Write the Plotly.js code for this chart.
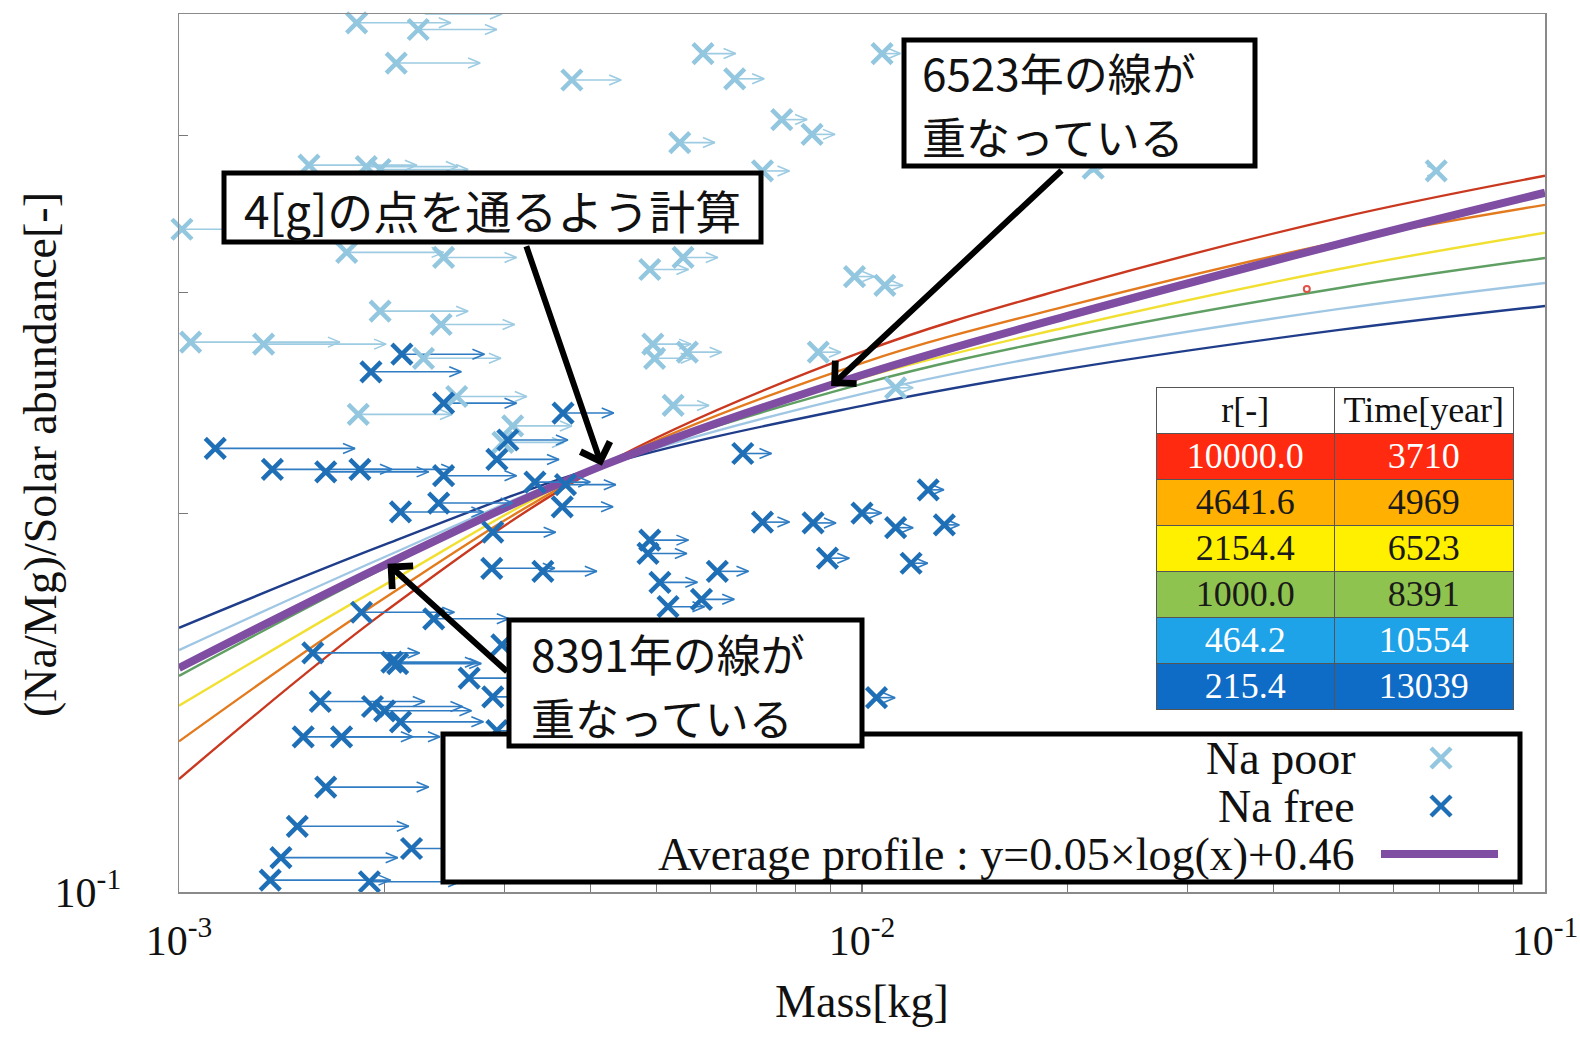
<!DOCTYPE html>
<html>
<head>
<meta charset="utf-8">
<script src="https://cdn.plot.ly/plotly-3.0.1.min.js"></script>
<style>
  html, body { margin: 0; padding: 0; background: #ffffff; }
  #chart { width: 1580px; height: 1038px; }
</style>
</head>
<body>
<div id="chart"></div>
<script>
// ---------- model profiles (Na/Mg ratio vs mass) ----------
const massGrid = [0.001, 0.002, 0.00416, 0.01, 0.02, 0.05, 0.1];
const profileR10000 = [0.1230, 0.1671, 0.2184, 0.2691, 0.3026, 0.3441, 0.3717];
const profileR4641  = [0.1318, 0.1714, 0.2184, 0.2637, 0.2928, 0.3293, 0.3524];
const profileR2154  = [0.1407, 0.1756, 0.2184, 0.2566, 0.2817, 0.3133, 0.3348];
const profileR1000  = [0.1486, 0.1811, 0.2184, 0.2538, 0.2766, 0.3026, 0.3197];
const profileR464   = [0.1558, 0.1848, 0.2184, 0.2492, 0.2691, 0.2912, 0.3054];
const profileR215   = [0.1623, 0.1890, 0.2184, 0.2438, 0.2609, 0.2802, 0.2928];
const averageProfile = [0.1508, 0.1821, 0.2184, 0.2580, 0.2875, 0.3281, 0.3603];

// table of growth factor r and elapsed time
const rValues = [10000.0, 4641.6, 2154.4, 1000.0, 464.2, 215.4];
const years   = [3710, 4969, 6523, 8391, 10554, 13039];

// ---------- measured samples ----------
const naPoorMass = [0.00182, 0.00229, 0.00224, 0.00208, 0.00376, 0.00585, 0.00651, 0.0107,
  0.00541, 0.00763, 0.00845, 0.00715, 0.00489, 0.00547, 0.00975, 0.0108, 0.00494, 0.00497,
  0.00555, 0.00863, 0.00529, 0.0112, 0.0218, 0.0693, 0.00101, 0.00155, 0.00188, 0.00197,
  0.00176, 0.00244, 0.00197, 0.00242, 0.00104, 0.00133, 0.00228, 0.00183, 0.00255, 0.00308, 0.00298];
const naPoorRatio = [0.492, 0.500, 0.486, 0.457, 0.443, 0.465, 0.444, 0.465,
  0.395, 0.412, 0.401, 0.375, 0.313, 0.320, 0.309, 0.304, 0.273, 0.266,
  0.269, 0.269, 0.244, 0.252, 0.377, 0.375, 0.337, 0.379, 0.378, 0.376,
  0.323, 0.320, 0.290, 0.283, 0.274, 0.273, 0.266, 0.240, 0.248, 0.235, 0.228];

const naFreeMass = [0.00113, 0.00137, 0.00164, 0.00184, 0.00244, 0.00191, 0.00212, 0.00244,
  0.00365, 0.00303, 0.00292, 0.00332, 0.00368, 0.00211, 0.00240, 0.00364, 0.00288, 0.00287,
  0.00341, 0.00185, 0.00236, 0.00157, 0.00205, 0.00209, 0.00266, 0.00288, 0.00161, 0.00192,
  0.00200, 0.00211, 0.00152, 0.00173, 0.00164, 0.00149, 0.00219, 0.00141, 0.00136, 0.00190,
  0.00669, 0.0125, 0.00715, 0.00848, 0.0100, 0.0112, 0.0132, 0.00890, 0.0118, 0.00489,
  0.00486, 0.00506, 0.00614, 0.00520, 0.00582, 0.0105, 0.00292, 0.00297];
const naFreeRatio = [0.2255, 0.217, 0.216, 0.217, 0.2145, 0.2595, 0.268, 0.245,
  0.2406, 0.229, 0.221, 0.212, 0.211, 0.2007, 0.204, 0.2026, 0.1934, 0.181,
  0.180, 0.167, 0.165, 0.155, 0.1524, 0.152, 0.148, 0.143, 0.1418, 0.1405,
  0.1394, 0.1366, 0.1329, 0.1329, 0.1212, 0.1128, 0.1083, 0.1065, 0.1022, 0.1019,
  0.2234, 0.209, 0.197, 0.1967, 0.2003, 0.195, 0.196, 0.1844, 0.1827, 0.1906,
  0.186, 0.1764, 0.180, 0.1687, 0.171, 0.1428, 0.1344, 0.1573];

// each sample carries a lower-limit arrow of this mass span (kg)
const ARROW_SPAN = 0.00068;

// a single marked point on the 8391-year curve
const markMass = [0.0448];
const markRatio = [0.302];

// ---------- page geometry ----------
const W = 1580, H = 1038;
const M = { l: 179, r: 35, t: 14, b: 146 };
const plotW = W - M.l - M.r;
const plotH = H - M.t - M.b;
const X_RANGE = [-3, -1];
const Y_RANGE = [-1, Math.log10(0.5)];
const pxPerDecX = plotW / (X_RANGE[1] - X_RANGE[0]);
const pxPerDecY = plotH / (Y_RANGE[1] - Y_RANGE[0]);
const HEAD_LEN = 12, HEAD_HALF = 5;

const SERIF = 'Liberation Serif, Times New Roman, serif';
const CJK = 'Noto Sans CJK JP, Noto Sans, sans-serif';

const C = {
  poor: '#93c6df', poorArrow: '#9ccbe2',
  free: '#1f6fb6', freeArrow: '#2f7cc2',
  avg: '#7f4ea3'
};
const curveColors = ['#c9381f', '#e37a1e', '#f1e032', '#5f9f63', '#9fc7e4', '#1f3d8a'];
const curveSets = [profileR10000, profileR4641, profileR2154, profileR1000, profileR464, profileR215];

// arrow shafts with open chevron heads, built in data space
function arrowPaths(mass, ratio) {
  const xs = [], ys = [];
  const kx = Math.pow(10, -HEAD_LEN / pxPerDecX);
  const ky = Math.pow(10, HEAD_HALF / pxPerDecY);
  mass.forEach((m, i) => {
    const y = ratio[i], tip = m + ARROW_SPAN;
    xs.push(m, tip, null, tip * kx, tip, tip * kx, null);
    ys.push(y, y, null, y * ky, y, y / ky, null);
  });
  return { xs, ys };
}

const traces = [];

curveSets.forEach((vals, i) => {
  traces.push({
    type: 'scatter', mode: 'lines', x: massGrid, y: vals,
    line: { color: curveColors[i], width: 2.4, shape: 'spline', smoothing: 1 },
    hoverinfo: 'skip', showlegend: false
  });
});
traces.push({
  type: 'scatter', mode: 'lines', x: massGrid, y: averageProfile,
  line: { color: C.avg, width: 8, shape: 'spline', smoothing: 1 },
  hoverinfo: 'skip', showlegend: false
});

const poorArrows = arrowPaths(naPoorMass, naPoorRatio);
const freeArrows = arrowPaths(naFreeMass, naFreeRatio);
traces.push({
  type: 'scatter', mode: 'lines', x: poorArrows.xs, y: poorArrows.ys,
  line: { color: C.poorArrow, width: 1.6 }, hoverinfo: 'skip', showlegend: false, cliponaxis: false
});
traces.push({
  type: 'scatter', mode: 'lines', x: freeArrows.xs, y: freeArrows.ys,
  line: { color: C.freeArrow, width: 1.6 }, hoverinfo: 'skip', showlegend: false, cliponaxis: false
});

traces.push({
  type: 'scatter', mode: 'markers', name: 'Na poor', x: naPoorMass, y: naPoorRatio,
  marker: { symbol: 'x-thin-open', size: 20, color: C.poor, line: { color: C.poor, width: 4.5 } },
  showlegend: false, cliponaxis: false
});
traces.push({
  type: 'scatter', mode: 'markers', name: 'Na free', x: naFreeMass, y: naFreeRatio,
  marker: { symbol: 'x-thin-open', size: 20, color: C.free, line: { color: C.free, width: 4.5 } },
  showlegend: false, cliponaxis: false
});
traces.push({
  type: 'scatter', mode: 'markers', x: markMass, y: markRatio,
  marker: { symbol: 'circle-open', size: 6, color: '#e0524a', line: { color: '#e0524a', width: 2 } },
  showlegend: false, hoverinfo: 'skip'
});

// r / time table
const rowFill = ['#ff2a10', '#ffb000', '#fff000', '#8fc34f', '#1ea2e8', '#0e6bc6'];
const rowText = ['#ffffff', '#1a1a1a', '#1a1a1a', '#1a1a1a', '#ffffff', '#ffffff'];
traces.push({
  type: 'table',
  domain: { x: [(1156 - M.l) / plotW, (1513 - M.l) / plotW], y: [(M.t + plotH - 712) / plotH, (M.t + plotH - 387) / plotH] },
  columnwidth: [1, 1],
  header: {
    values: ['r[-]', 'Time[year]'],
    fill: { color: '#ffffff' },
    line: { color: '#555555', width: 1 },
    font: { family: SERIF, size: 36, color: '#111111' },
    height: 46, align: 'center'
  },
  cells: {
    values: [rValues.map(v => v.toFixed(1)), years.map(String)],
    fill: { color: [rowFill, rowFill] },
    line: { color: '#555555', width: 1 },
    font: { family: SERIF, size: 36, color: [rowText, rowText] },
    height: 46, align: 'center'
  }
});

// axis ticks: labelled decades plus unlabelled minor ticks
const xTickVals = [0.001, 0.01, 0.1];
const xTickText = ['10<sup>-3</sup>', '10<sup>-2</sup>', '10<sup>-1</sup>'];
const xMinorVals = [];
[0.001, 0.01].forEach(d => { for (let k = 2; k <= 9; k++) xMinorVals.push(d * k); });
const yTickVals = [0.1];
const yTickText = ['10<sup>-1</sup>'];
const yMinorVals = [0.2, 0.3, 0.4];

// paper-coordinate helpers for overlay boxes
const px = v => (v - M.l) / plotW;
const py = v => (M.t + plotH - v) / plotH;

const shapes = [];
const annotations = [];
const frameBox = (x0, x1, y0, y1) => ({
  type: 'rect', xref: 'paper', yref: 'paper', layer: 'above',
  x0: px(x0), x1: px(x1), y0: py(y1), y1: py(y0),
  fillcolor: '#ffffff', line: { color: '#000000', width: 5 }
});

// legend: framed box, labels right-aligned with their symbols to the right
const legendRows = [758, 806, 854];
const legendSymX = 1441, symHalf = 10;
shapes.push(frameBox(443, 1520, 734, 882));
[[legendRows[0], C.poor], [legendRows[1], C.free]].forEach(([ry, col]) => {
  shapes.push({ type: 'line', xref: 'paper', yref: 'paper', layer: 'above',
    x0: px(legendSymX - symHalf), x1: px(legendSymX + symHalf), y0: py(ry - symHalf), y1: py(ry + symHalf),
    line: { color: col, width: 4.5 } });
  shapes.push({ type: 'line', xref: 'paper', yref: 'paper', layer: 'above',
    x0: px(legendSymX - symHalf), x1: px(legendSymX + symHalf), y0: py(ry + symHalf), y1: py(ry - symHalf),
    line: { color: col, width: 4.5 } });
});
shapes.push({ type: 'line', xref: 'paper', yref: 'paper', layer: 'above',
  x0: px(1381), x1: px(1498), y0: py(legendRows[2]), y1: py(legendRows[2]),
  line: { color: C.avg, width: 8 } });

const legendLabels = ['Na poor', 'Na free', 'Average profile : y=0.05×log(x)+0.46'];
legendLabels.forEach((t, i) => {
  annotations.push({ xref: 'paper', yref: 'paper', x: px(1357), y: py(legendRows[i]),
    xanchor: 'right', yanchor: 'middle', showarrow: false, text: t,
    font: { family: SERIF, size: 46, color: '#111111' } });
});

// callouts: framed notes with arrows pointing at the curves
const callouts = [
  { mass: 0.00416, ratio: 0.2184, ax: -76, ay: -221, box: [224, 761, 173, 242], size: 46,
    lines: [{ text: '4[g]の点を通るよう計算', x: 492, y: 209, anchor: 'center' }] },
  { mass: 0.00901, ratio: 0.2528, ax: 232, ay: -217, box: [904, 1255, 40, 166], size: 44,
    lines: [{ text: '6523年の線が', x: 920, y: 72, anchor: 'left' },
            { text: '重なっている', x: 920, y: 136, anchor: 'left' }] },
  { mass: 0.00202, ratio: 0.1825, ax: 121, ay: 109, box: [509, 862, 620, 746], size: 44,
    lines: [{ text: '8391年の線が', x: 529, y: 653, anchor: 'left' },
            { text: '重なっている', x: 529, y: 717, anchor: 'left' }] }
];
callouts.forEach(c => {
  shapes.push(frameBox(c.box[0], c.box[1], c.box[2], c.box[3]));
  c.lines.forEach(l => {
    annotations.push({ xref: 'paper', yref: 'paper', x: px(l.x), y: py(l.y),
      xanchor: l.anchor, yanchor: 'middle', showarrow: false, text: l.text,
      font: { family: CJK, size: c.size, color: '#111111' } });
  });
  annotations.push({ xref: 'x', yref: 'y', x: Math.log10(c.mass), y: Math.log10(c.ratio),
    axref: 'pixel', ayref: 'pixel', ax: c.ax, ay: c.ay, text: '', showarrow: true,
    arrowhead: 4, arrowsize: 1, arrowwidth: 6, arrowcolor: '#000000', standoff: 0 });
});

// vertical axis title
annotations.push({ xref: 'paper', yref: 'paper', x: px(40), y: py(455),
  xanchor: 'center', yanchor: 'middle', showarrow: false, textangle: -90,
  text: '(Na/Mg)/Solar abundance[-]', font: { family: SERIF, size: 46, color: '#111111' } });

const axisCommon = {
  type: 'log', tickmode: 'array',
  ticks: 'inside', ticklen: 9, tickwidth: 1.2, tickcolor: '#777777',
  showline: true, linecolor: '#8a8a8a', linewidth: 1.5, mirror: true,
  showgrid: false, zeroline: false, automargin: false,
  tickfont: { family: SERIF, size: 42, color: '#111111' }
};

const layout = {
  width: W, height: H,
  margin: M,
  paper_bgcolor: '#ffffff', plot_bgcolor: '#ffffff',
  showlegend: false,
  font: { family: SERIF, color: '#111111' },
  xaxis: Object.assign({}, axisCommon, {
    range: X_RANGE, tickvals: xTickVals, ticktext: xTickText, ticklabelstandoff: 11,
    minor: { tickmode: 'array', tickvals: xMinorVals, ticks: 'inside', ticklen: 9, tickwidth: 1.2, tickcolor: '#777777', showgrid: false },
    title: { text: 'Mass[kg]', font: { family: SERIF, size: 46, color: '#111111' }, standoff: 22 }
  }),
  yaxis: Object.assign({}, axisCommon, {
    range: Y_RANGE, tickvals: yTickVals, ticktext: yTickText, ticklabelstandoff: 48,
    minor: { tickmode: 'array', tickvals: yMinorVals, ticks: 'inside', ticklen: 9, tickwidth: 1.2, tickcolor: '#777777', showgrid: false }
  }),
  shapes: shapes,
  annotations: annotations
};

Plotly.newPlot('chart', traces, layout, { staticPlot: true, displayModeBar: false });
</script>
</body>
</html>
